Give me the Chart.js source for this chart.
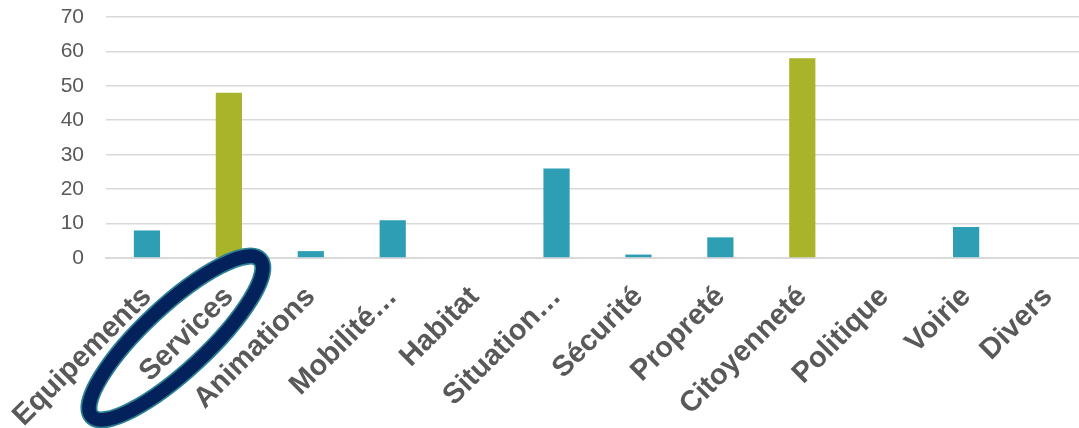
<!DOCTYPE html>
<html>
<head>
<meta charset="utf-8">
<script src="https://cdn.jsdelivr.net/npm/chart.js@4.4.0/dist/chart.umd.min.js"></script>
<style>
  html, body { margin: 0; padding: 0; background: #ffffff; overflow: hidden; }
  #wrap { position: relative; width: 1100px; height: 428px; }
</style>
</head>
<body>
<div id="wrap"><canvas id="c"></canvas></div>
<script>
const categories = ['Equipements', 'Services', 'Animations', 'Mobilité…', 'Habitat', 'Situation…', 'Sécurité', 'Propreté', 'Citoyenneté', 'Politique', 'Voirie', 'Divers'];
const values = [8, 48, 2, 11, 0, 26, 1, 6, 58, 0, 9, 0];
const highlighted = ['Services', 'Citoyenneté'];
const circledCategory = 'Services';
const yTicks = [0, 10, 20, 30, 40, 50, 60, 70];

const TEAL = '#2e9eb5';
const GREEN = '#a9b42a';
const NAVY = '#03215a';
const OUTLINE = '#2b8193';

function zeroPadding(scale) {
  scale.paddingTop = 0;
  scale.paddingBottom = 0;
  scale.paddingLeft = 0;
  scale.paddingRight = 0;
}

const ellipsePlugin = {
  id: 'circleLabel',
  afterDraw(chart) {
    const xs = chart.scales.x, ys = chart.scales.y;
    const idx = categories.indexOf(circledCategory);
    if (idx < 0) return;
    const cx = xs.getPixelForValue(idx) - 53;
    const cy = ys.getPixelForValue(0) + 80;
    const rot = -43 * Math.PI / 180;
    const ctx = chart.ctx;
    ctx.save();
    ctx.beginPath();
    ctx.ellipse(cx, cy, 115, 32, rot, 0, Math.PI * 2);
    ctx.strokeStyle = OUTLINE;
    ctx.lineWidth = 17;
    ctx.stroke();
    ctx.beginPath();
    ctx.ellipse(cx, cy, 115, 32, rot, 0, Math.PI * 2);
    ctx.strokeStyle = NAVY;
    ctx.lineWidth = 13.5;
    ctx.stroke();
    ctx.restore();
  }
};

new Chart(document.getElementById('c'), {
  type: 'bar',
  data: {
    labels: categories,
    datasets: [{
      data: values,
      backgroundColor: (c) => highlighted.includes(categories[c.dataIndex]) ? GREEN : TEAL,
      barPercentage: 0.32,
      categoryPercentage: 1.0,
      borderWidth: 0
    }]
  },
  options: {
    responsive: true,
    maintainAspectRatio: false,
    animation: false,
    layout: { padding: { top: 17, right: 11, left: 0, bottom: 0 } },
    plugins: { legend: { display: false }, tooltip: { enabled: false } },
    scales: {
      x: {
        grid: { display: false, drawTicks: false },
        border: { display: true, color: '#d9d9d9', width: 2 },
        ticks: {
          autoSkip: false,
          maxRotation: 45,
          minRotation: 45,
          padding: 22,
          color: '#595959',
          font: { family: '"Liberation Sans", Arial, sans-serif', size: 29, weight: 'bold' }
        },
        afterFit(scale) { scale.height = 170; zeroPadding(scale); }
      },
      y: {
        min: 0,
        max: 70,
        afterBuildTicks(scale) { scale.ticks = yTicks.map(v => ({ value: v })); },
        grid: { color: '#d9d9d9', lineWidth: 1.6, drawTicks: false },
        border: { display: false },
        ticks: {
          padding: 22,
          color: '#595959',
          font: { family: '"Liberation Sans", Arial, sans-serif', size: 21 }
        },
        afterFit(scale) { scale.width = 106; zeroPadding(scale); }
      }
    }
  },
  plugins: [ellipsePlugin]
});
</script>
</body>
</html>
